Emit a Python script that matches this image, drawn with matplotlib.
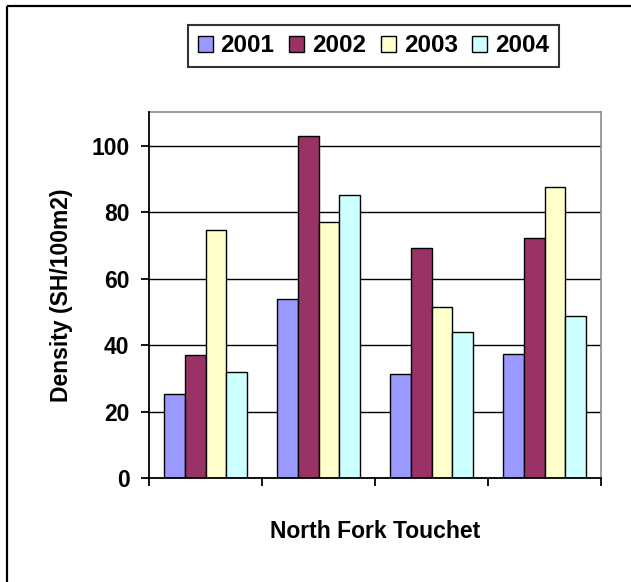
import matplotlib
matplotlib.use("Agg")
import matplotlib.pyplot as plt
from matplotlib.patches import Rectangle
import numpy as np

plt.rcParams['font.family'] = ['Liberation Sans', 'DejaVu Sans']
plt.rcParams['font.weight'] = 'bold'

years = ['2001', '2002', '2003', '2004']
colors = ['#9999FF', '#993366', '#FFFFCC', '#CCFFFF']
density_2001 = [25.4, 53.7, 31.3, 37.4]
density_2002 = [36.9, 103.0, 69.2, 72.3]
density_2003 = [74.7, 77.0, 51.3, 87.4]
density_2004 = [32.0, 85.0, 44.0, 48.8]
series = [density_2001, density_2002, density_2003, density_2004]
y_ticks = [0, 20, 40, 60, 80, 100]

W, H = 631, 582
fig = plt.figure(figsize=(W / 100, H / 100), dpi=100)

# outer frame of the chart area
fig.add_artist(Rectangle((7 / W, 1 - 6 / H), 2, -2, transform=fig.transFigure,
                         fill=False, edgecolor='black', linewidth=1.6))

ax = fig.add_axes([149 / W, 1 - 478 / H, (601 - 149) / W, (478 - 112.3) / H])

n_groups = len(density_2001)
bar_w = 0.185
centers = np.arange(n_groups) + 0.5
for j, (vals, col, yr) in enumerate(zip(series, colors, years)):
    ax.bar(centers + (j - 1.5) * bar_w, vals, width=bar_w, color=col,
           edgecolor='black', linewidth=1.0, label=yr, zorder=3)

ax.set_xlim(0, n_groups)
ax.set_ylim(0, 110)
ax.set_yticks(y_ticks)
ax.set_xticks(np.arange(n_groups + 1))
ax.set_xticklabels([])
ax.yaxis.grid(True, color='black', linewidth=1.0, zorder=1)
ax.set_axisbelow(True)

for side in ['top', 'right']:
    ax.spines[side].set_color('#8c8c8c')
    ax.spines[side].set_linewidth(1.2)
for side in ['left', 'bottom']:
    ax.spines[side].set_color('black')
    ax.spines[side].set_linewidth(1.3)
    ax.spines[side].set_zorder(4)

ax.tick_params(axis='both', direction='out', length=6, width=1.3, color='black')
ax.tick_params(axis='y', labelsize=16.5, pad=8)
for lbl in ax.get_yticklabels():
    lbl.set_fontweight('bold')

ax.set_ylabel('Density (SH/100m2)', fontsize=16.5, fontweight='bold', labelpad=13)
ax.set_xlabel('North Fork Touchet', fontsize=16.5, fontweight='bold', labelpad=21)

leg = fig.legend(loc='center', bbox_to_anchor=((189 + 558) / 2 / W, 1 - 46 / H),
                 ncol=4, fontsize=17.5, frameon=True, fancybox=False,
                 handlelength=0.62, handleheight=0.62, handletextpad=0.33,
                 columnspacing=0.6, borderpad=0.4, borderaxespad=0)
leg.get_frame().set_edgecolor('black')
leg.get_frame().set_linewidth(1.5)
for t in leg.get_texts():
    t.set_fontweight('bold')

fig.savefig('out.png', dpi=100, facecolor='white')
